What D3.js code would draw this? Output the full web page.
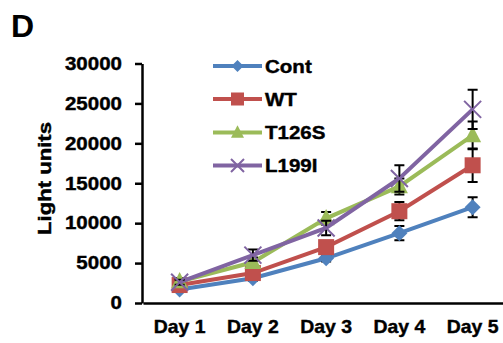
<!DOCTYPE html>
<html><head><meta charset="utf-8">
<script src="https://cdn.jsdelivr.net/npm/d3@7"></script>
<style>
body{margin:0;background:#fff;}
text{font-family:"Liberation Sans",Arial,sans-serif;font-weight:bold;fill:#000;}
</style></head>
<body><svg id="c" width="503" height="343"></svg>
<script>
const days = ["Day 1","Day 2","Day 3","Day 4","Day 5"];
const seriesNames = ["Cont","WT","T126S","L199I"];
const seriesColors = ["#4F81BD","#C0504D","#9BBB59","#8064A2"];
const seriesMarkers = ["diamond","square","triangle","cross"];
const contValues = [1700, 3100, 5600, 8750, 12000];
const wtValues = [2250, 3750, 7000, 11500, 17250];
const t126sValues = [2700, 5100, 10600, 14600, 21000];
const l199iValues = [2600, 6000, 9400, 15600, 24250];
const contErr = [200, 300, 400, 900, 1250];
const wtErr = [300, 400, 600, 1150, 2100];
const t126sErr = [400, 600, 800, 1000, 1750];
const l199iErr = [300, 700, 900, 1650, 2450];
const yTicks = [0, 5000, 10000, 15000, 20000, 25000, 30000];

const values = [contValues, wtValues, t126sValues, l199iValues];
const errs = [contErr, wtErr, t126sErr, l199iErr];

const svg = d3.select("#c");
const x = d3.scaleBand().domain(days).range([143, 509.25]).padding(0);
const y = d3.scaleLinear().domain([0, 30000]).range([303, 63.5]);
const cx = d => x(d) + x.bandwidth()/2;

function stretch(sel, k){
  sel.each(function(){ const w=this.getComputedTextLength(); d3.select(this).attr("textLength", w*k).attr("lengthAdjust","spacingAndGlyphs"); });
}

// title
svg.append("text").attr("x",11).attr("y",37).style("font-size","32px").text("D");

// y axis
const ya = svg.append("g").attr("transform","translate(142,0)")
  .call(d3.axisLeft(y).tickValues(yTicks).tickFormat(d3.format("d")).tickSize(7).tickPadding(13).tickSizeOuter(0));
ya.select(".domain").attr("stroke","#000").attr("stroke-width",2.5);
ya.selectAll(".tick line").attr("stroke","#000").attr("stroke-width",2.5);
ya.selectAll(".tick text").style("font-size","18px").attr("font-family",null)
  .style("stroke","#000").style("stroke-width","0.4px");
stretch(ya.selectAll(".tick text"), 1.14);

// x axis
const xa = svg.append("g").attr("transform","translate(0,303)")
  .call(d3.axisBottom(x).tickSize(0).tickPadding(17).tickSizeOuter(0));
xa.select(".domain").attr("stroke","#000").attr("stroke-width",2.5);
xa.selectAll(".tick text").style("font-size","18.5px").attr("font-family",null)
  .style("stroke","#000").style("stroke-width","0.4px");
stretch(xa.selectAll(".tick text"), 1.05);

// y label
const yl = svg.append("text").attr("transform","translate(51,178.5) rotate(-90)")
  .attr("text-anchor","middle").style("font-size","18px")
  .style("stroke","#000").style("stroke-width","0.4px").text("Light units");
yl.attr("textLength",113).attr("lengthAdjust","spacingAndGlyphs");

function marker(g, type, color, px, py, s){
  if(type==="diamond"){
    g.append("path").attr("d",`M${px},${py-s}L${px+s},${py}L${px},${py+s}L${px-s},${py}Z`).attr("fill",color);
  } else if(type==="square"){
    g.append("rect").attr("x",px-s).attr("y",py-s).attr("width",2*s).attr("height",2*s).attr("fill",color);
  } else if(type==="triangle"){
    g.append("path").attr("d",`M${px},${py-s*1.1}L${px+s},${py+s*0.8}L${px-s},${py+s*0.8}Z`).attr("fill",color);
  } else {
    g.append("path").attr("d",`M${px-s},${py-s}L${px+s},${py+s}M${px-s},${py+s}L${px+s},${py-s}`).attr("stroke",color).attr("stroke-width",2);
  }
}
const msize = [8, 8, 8.5, 8.5];

values.forEach((vals, i) => {
  const g = svg.append("g");
  const line = d3.line().x((d,j)=>cx(days[j])).y(d=>y(d));
  g.append("path").datum(vals).attr("d",line).attr("fill","none")
    .attr("stroke",seriesColors[i]).attr("stroke-width",4);
  vals.forEach((v,j)=>{
    const px = cx(days[j]), e = errs[i][j];
    g.append("path").attr("d",`M${px},${y(v-e)}V${y(v+e)}M${px-5},${y(v+e)}H${px+5}M${px-5},${y(v-e)}H${px+5}`)
      .attr("stroke","#000").attr("stroke-width",2).attr("fill","none");
  });
  vals.forEach((v,j)=> marker(g, seriesMarkers[i], seriesColors[i], cx(days[j]), y(v), msize[i]));
});

// legend
const legY = [66, 99, 132.5, 165.5];
seriesNames.forEach((n,i)=>{
  const g = svg.append("g");
  g.append("line").attr("x1",213).attr("x2",262).attr("y1",legY[i]).attr("y2",legY[i])
    .attr("stroke",seriesColors[i]).attr("stroke-width",4);
  marker(g, seriesMarkers[i], seriesColors[i], 237.5, legY[i], i===0?6:6.5);
  const t = g.append("text").attr("x",265).attr("y",legY[i]+6.5).style("font-size","18px")
    .style("stroke","#000").style("stroke-width","0.4px").text(n);
  stretch(t, 1.14);
});
</script></body></html>
